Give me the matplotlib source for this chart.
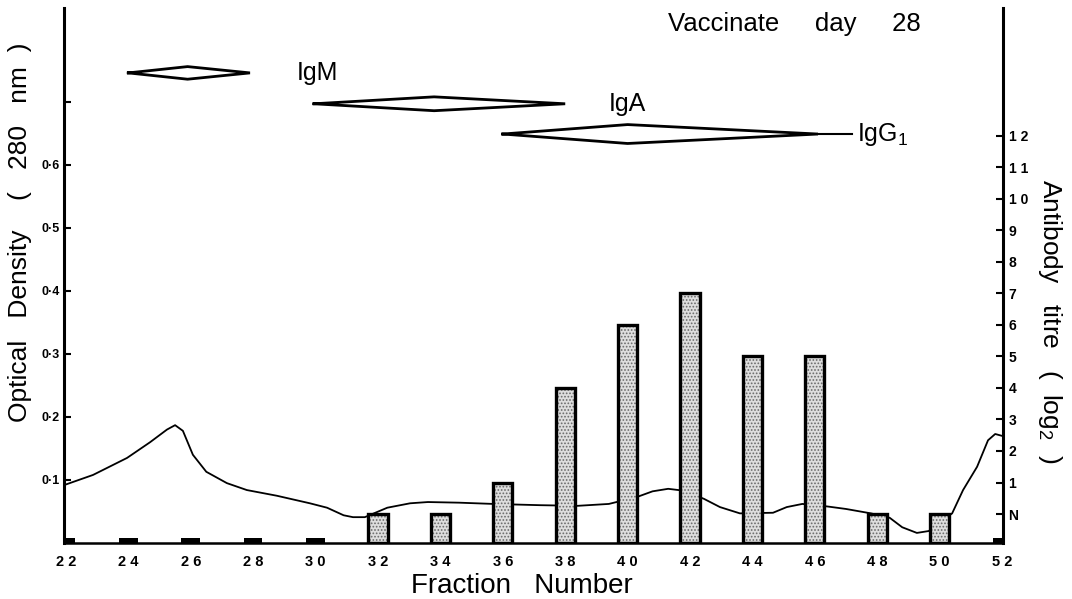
import matplotlib.pyplot as plt

plt.rcParams['font.family'] = ['Liberation Sans', 'DejaVu Sans']
plt.rcParams['hatch.linewidth'] = 0.8

# antibody titre (log2) per fraction, 0 = N
fractions = [32, 34, 36, 38, 40, 42, 44, 46, 48, 50]
titre = [0, 0, 1, 4, 6, 7, 5, 5, 0, 0]
neg_fractions = [22, 24, 26, 28, 30, 52]

# optical density trace (280 nm)
od_x = [21.95, 22.87, 23.96, 24.7, 25.24, 25.5, 25.75, 26.07, 26.5, 27.16, 27.8, 28.76,
        29.82, 30.37, 30.9, 31.2, 31.58, 32.3, 33.03, 33.6, 34.6, 35.7, 37.2, 38.4,
        39.4, 40.3, 40.8, 41.3, 41.8, 42.45, 42.96, 43.6, 44.66, 45.1, 45.6, 46.4,
        47.0, 47.8, 48.4, 48.8, 49.27, 49.65, 50.4, 50.75, 51.2, 51.55, 51.78, 52.0]
od_y = [0.092, 0.108, 0.135, 0.160, 0.180, 0.187, 0.178, 0.140, 0.113, 0.095, 0.084, 0.075,
        0.063, 0.056, 0.044, 0.041, 0.041, 0.056, 0.063, 0.065, 0.064, 0.062, 0.060, 0.059,
        0.062, 0.073, 0.082, 0.086, 0.083, 0.070, 0.057, 0.047, 0.048, 0.057, 0.062, 0.058,
        0.054, 0.047, 0.040, 0.025, 0.016, 0.019, 0.047, 0.084, 0.121, 0.163, 0.173, 0.170]

# immunoglobulin elution bands
band_names = ['IgM', 'IgA', 'IgG$_\\mathregular{1}$']
band_start = [24.0, 29.95, 36.0]
band_peak = [25.9, 33.8, 40.0]
band_end = [27.9, 38.0, 46.1]
band_level = [0.746, 0.697, 0.649]
band_half = [0.010, 0.011, 0.015]
label_x = [29.4, 39.4, 47.35]
tail_end = [None, None, 47.2]

x_ticks = list(range(22, 53, 2))
x_labels = [' '.join(str(v)) for v in x_ticks]
od_ticks = [0.1, 0.2, 0.3, 0.4, 0.5, 0.6, 0.7]
od_labels = ['0·1', '0·2', '0·3', '0·4', '0·5', '0·6', '']
titre_ticks = list(range(0, 13))
titre_labels = ['N'] + [' '.join(str(v)) for v in range(1, 13)]

W, H = 1072, 599
fig = plt.figure(figsize=(W / 100, H / 100), dpi=100)
ax = fig.add_axes([64 / W, 1 - 543 / H, (1003 - 64) / W, (543 - 8) / H])
ax.set_xlim(21.94, 52.03)
ax.set_ylim(0, 0.849)

ax2 = ax.twinx()
ax2.set_ylim((0 - 0.046) / 0.05, (0.849 - 0.046) / 0.05)

# OD trace behind the bars
ax.plot(od_x, od_y, color='black', lw=1.3, zorder=1)

# small marks for fractions with no titre
ax.bar(neg_fractions, [0.008] * len(neg_fractions), width=0.6, color='black', zorder=2)

base = ax2.get_ylim()[0]
heights = [t - base for t in titre]
ax2.bar(fractions, heights, bottom=base, width=0.62, facecolor='#dedede',
        edgecolor='#6a6a6a', hatch='.....', lw=0, zorder=2)
ax2.bar(fractions, heights, bottom=base, width=0.62, fill=False,
        edgecolor='black', lw=2.4, zorder=3)

# diamonds
for i, name in enumerate(band_names):
    xs = [band_start[i], band_peak[i], band_end[i], band_peak[i], band_start[i]]
    ys = [band_level[i], band_level[i] + band_half[i], band_level[i],
          band_level[i] - band_half[i], band_level[i]]
    ax.plot(xs, ys, color='black', lw=2, solid_joinstyle='miter', clip_on=False)
    if tail_end[i] is not None:
        ax.plot([band_end[i], tail_end[i]], [band_level[i], band_level[i]],
                color='black', lw=1.5)
    ax.text(label_x[i], band_level[i], name, fontsize=18, va='center', ha='left')

ax.set_xticks(x_ticks)
ax.set_xticklabels(x_labels, fontsize=10.5, fontweight='bold')
ax.tick_params(axis='x', length=0, pad=9)
ax.set_yticks(od_ticks)
ax.set_yticklabels(od_labels, fontsize=9, fontweight='bold')
ax.tick_params(axis='y', direction='in', length=5, width=1.5, pad=3)

ax2.set_yticks(titre_ticks)
ax2.set_yticklabels(titre_labels, fontsize=10, fontweight='bold')
ax2.tick_params(axis='y', direction='in', length=5, width=1.5, pad=4)

ax.spines['top'].set_visible(False)
ax.spines['right'].set_visible(False)
ax.spines['left'].set_linewidth(2.2)
ax.spines['bottom'].set_linewidth(1.8)
for s in ['top', 'left', 'bottom']:
    ax2.spines[s].set_visible(False)
ax2.spines['right'].set_linewidth(2.2)

fig.text(20 / W, 1 - 232 / H, 'Optical   Density    (   280   nm  )', rotation=90,
         fontsize=19, ha='center', va='center')
fig.text(1050 / W, 1 - 321 / H, 'Antibody   titre   (  log$_\\mathregular{2}$  )',
         rotation=-90, fontsize=19, ha='center', va='center')
fig.text(522 / W, 1 - 586 / H, 'Fraction   Number', fontsize=20, ha='center', va='center')
fig.text(668 / W, 1 - 24 / H, 'Vaccinate     day     28', fontsize=18.5, ha='left', va='center')

fig.savefig('out.png', dpi=100)
